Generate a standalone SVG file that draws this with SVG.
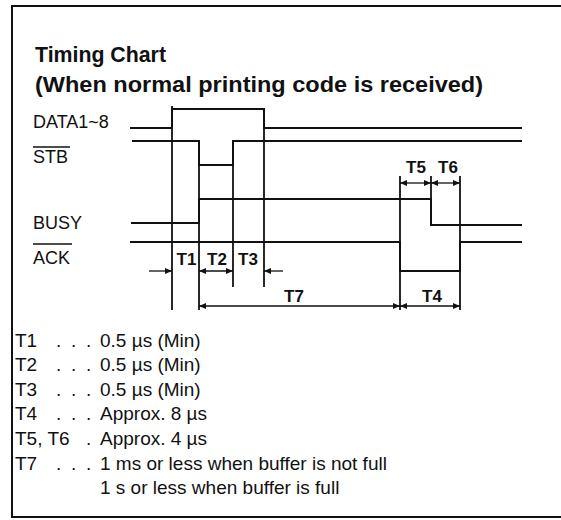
<svg xmlns="http://www.w3.org/2000/svg" width="561" height="520" viewBox="0 0 561 520">
<style>
text{font-family:"Liberation Sans",Arial,Helvetica,sans-serif;fill:#111}
.title{font-size:22px;font-weight:bold}
.sig{font-size:18px}
.dim{font-size:17px;font-weight:bold}
.leg{font-size:19px}
.wave{fill:none;stroke:#111;stroke-width:2;stroke-linejoin:miter}
.ref{fill:none;stroke:#111;stroke-width:1.8}
.arr{fill:none;stroke:#111;stroke-width:1.3}
.frame{fill:none;stroke:#111;stroke-width:2}
</style>
<defs>
<marker id="ah" markerUnits="userSpaceOnUse" markerWidth="8" markerHeight="7" refX="7" refY="3" orient="auto-start-reverse">
<path d="M0,0 L7,3 L0,6 z" fill="#111"/>
</marker>
</defs>
<rect width="561" height="520" fill="#fff"/>
<g id="frame">
<path class="frame" d="M561,6 L12,6 L12,517 L561,517"/>
</g>
<g id="title">
<text class="title" x="35" y="62" textLength="131" lengthAdjust="spacingAndGlyphs">Timing Chart</text>
<text class="title" x="35" y="92" textLength="448" lengthAdjust="spacingAndGlyphs">(When normal printing code is received)</text>
</g>
<g id="signal-data">
<text class="sig" x="33" y="128">DATA1~8</text>
<path class="wave" d="M130,128 L172,128 L172,109 L264,109 L264,128 L522,128"/>
</g>
<g id="signal-stb">
<text class="sig" x="33" y="163">STB</text>
<line x1="33" y1="147" x2="70" y2="147" stroke="#111" stroke-width="1.5"/>
<path class="wave" d="M132,141 L199,141 L199,165 L233,165 L233,141 L522,141"/>
</g>
<g id="signal-busy">
<text class="sig" x="33" y="229">BUSY</text>
<path class="wave" d="M131,223 L199,223 L199,199 L431,199 L431,225 L522,225"/>
</g>
<g id="signal-ack">
<text class="sig" x="33" y="264">ACK</text>
<line x1="33" y1="244" x2="72" y2="244" stroke="#111" stroke-width="1.5"/>
<path class="wave" d="M130,242 L400,242 L400,271 L460,271 L460,242 L522,242"/>
</g>
<g id="reference-lines">
<line class="ref" x1="172" y1="106" x2="172" y2="310"/>
<line class="ref" x1="199" y1="141" x2="199" y2="310"/>
<line class="ref" x1="233" y1="141" x2="233" y2="287"/>
<line class="ref" x1="264" y1="109" x2="264" y2="287"/>
<line class="ref" x1="400" y1="176" x2="400" y2="310"/>
<line class="ref" x1="431" y1="176" x2="431" y2="225"/>
<line class="ref" x1="460" y1="176" x2="460" y2="310"/>
</g>
<g id="connectors">
<line class="arr" x1="149" y1="271" x2="172" y2="271" marker-end="url(#ah)"/>
<line class="arr" x1="199" y1="271" x2="233" y2="271" marker-start="url(#ah)" marker-end="url(#ah)"/>
<line class="arr" x1="283" y1="271" x2="264" y2="271" marker-end="url(#ah)"/>
<line class="arr" x1="199" y1="306" x2="400" y2="306" marker-start="url(#ah)" marker-end="url(#ah)"/>
<line class="arr" x1="400" y1="306" x2="460" y2="306" marker-start="url(#ah)" marker-end="url(#ah)"/>
<line class="arr" x1="400" y1="183" x2="431" y2="183" marker-start="url(#ah)" marker-end="url(#ah)"/>
<line class="arr" x1="431" y1="183" x2="460" y2="183" marker-start="url(#ah)" marker-end="url(#ah)"/>
</g>
<g id="labels">
<text class="dim" x="186.5" y="265" text-anchor="middle">T1</text>
<text class="dim" x="217" y="265" text-anchor="middle">T2</text>
<text class="dim" x="248" y="265" text-anchor="middle">T3</text>
<text class="dim" x="294" y="302" text-anchor="middle">T7</text>
<text class="dim" x="432" y="302" text-anchor="middle">T4</text>
<text class="dim" x="416" y="173" text-anchor="middle">T5</text>
<text class="dim" x="448" y="173" text-anchor="middle">T6</text>
</g>
<g id="legend">
<text class="leg" x="15" y="347">T1</text><text class="leg" x="56 71 86" y="347">...</text><text class="leg" x="100" y="347">0.5 µs (Min)</text>
<text class="leg" x="15" y="371">T2</text><text class="leg" x="56 71 86" y="371">...</text><text class="leg" x="100" y="371">0.5 µs (Min)</text>
<text class="leg" x="15" y="396">T3</text><text class="leg" x="56 71 86" y="396">...</text><text class="leg" x="100" y="396">0.5 µs (Min)</text>
<text class="leg" x="15" y="420">T4</text><text class="leg" x="56 71 86" y="420">...</text><text class="leg" x="100" y="420">Approx. 8 µs</text>
<text class="leg" x="15" y="445">T5, T6</text><text class="leg" x="86" y="445">.</text><text class="leg" x="100" y="445">Approx. 4 µs</text>
<text class="leg" x="15" y="470">T7</text><text class="leg" x="56 71 86" y="470">...</text><text class="leg" x="100" y="470">1 ms or less when buffer is not full</text>
<text class="leg" x="100" y="494">1 s or less when buffer is full</text>
</g>
</svg>
